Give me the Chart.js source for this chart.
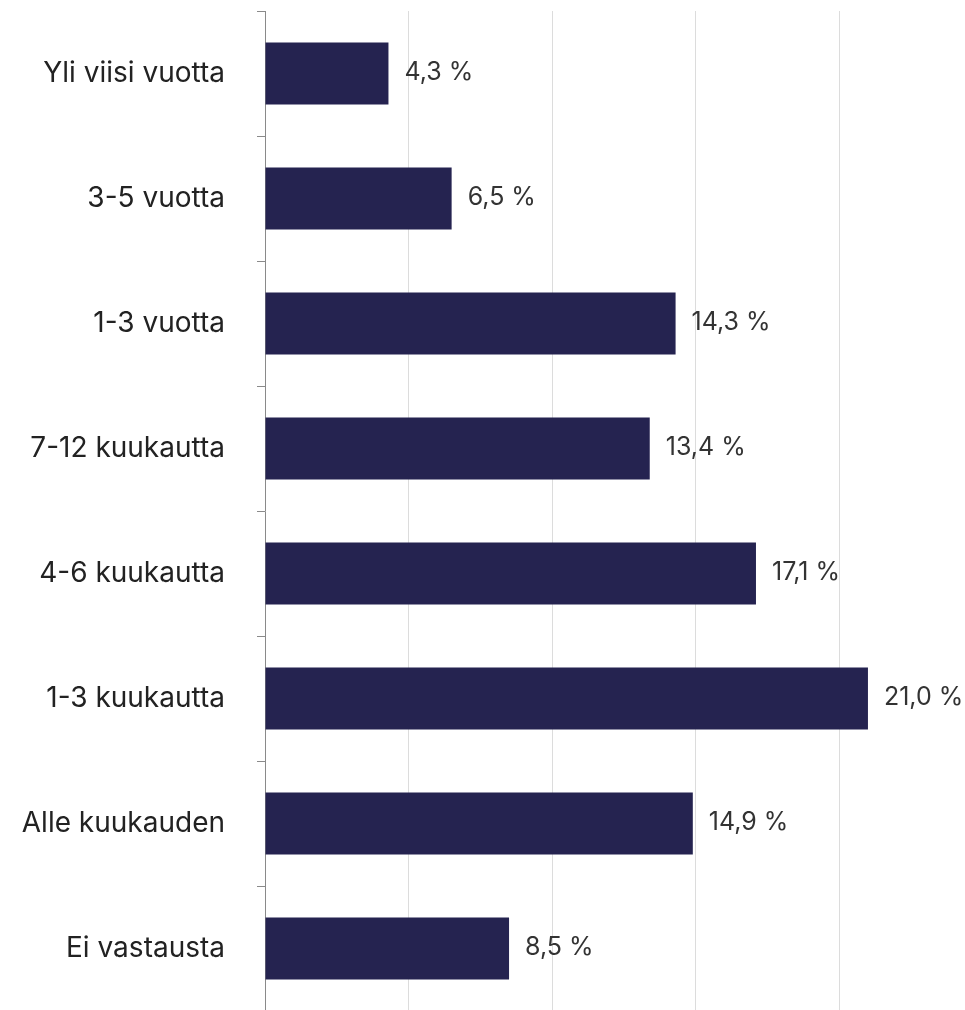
<!DOCTYPE html>
<html>
<head>
<meta charset="utf-8">
<script src="https://cdn.jsdelivr.net/npm/chart.js@4.4.1/dist/chart.umd.min.js"></script>
<style>
html,body{margin:0;padding:0;background:#fff;overflow:hidden;}
#wrap{position:absolute;left:0;top:0;width:965px;height:1012px;}
</style>
</head>
<body>
<div id="wrap"><canvas id="c"></canvas></div>
<script>
const categories = ["Yli viisi vuotta","3-5 vuotta","1-3 vuotta","7-12 kuukautta","4-6 kuukautta","1-3 kuukautta","Alle kuukauden","Ei vastausta"];
const values = [4.3, 6.5, 14.3, 13.4, 17.1, 21.0, 14.9, 8.5];
const valueLabels = ["4,3 %","6,5 %","14,3 %","13,4 %","17,1 %","21,0 %","14,9 %","8,5 %"];

const FONT = "Inter";

const valueLabelPlugin = {
  id: 'valueLabels',
  afterDatasetsDraw(chart) {
    const ctx = chart.ctx;
    const meta = chart.getDatasetMeta(0);
    ctx.save();
    ctx.font = "25px " + FONT;
    ctx.fillStyle = "#333333";
    ctx.textAlign = "left";
    ctx.textBaseline = "middle";
    meta.data.forEach((bar, i) => {
      ctx.fillText(valueLabels[i], bar.x + 16, bar.y - 1);
    });
    ctx.restore();
  }
};

new Chart(document.getElementById('c'), {
  type: 'bar',
  data: {
    labels: categories,
    datasets: [{
      data: values,
      backgroundColor: '#252350',
      borderWidth: 0,
      barPercentage: 0.99,
      categoryPercentage: 0.5
    }]
  },
  options: {
    indexAxis: 'y',
    responsive: true,
    maintainAspectRatio: false,
    animation: false,
    layout: { padding: { top: 11, bottom: 1, left: 0, right: 0 } },
    plugins: { legend: { display: false }, tooltip: { enabled: false } },
    scales: {
      x: {
        min: 0, max: 24.38,
        ticks: { display: false, stepSize: 5 },
        border: { display: false },
        grid: {
          drawTicks: false,
          color: (c) => c.tick && c.tick.value === 0 ? 'rgba(0,0,0,0)' : '#dcdcdc',
          lineWidth: 1
        },
        afterFit(scale) { scale.height = 0; scale.paddingLeft = 0; scale.paddingRight = 0; }
      },
      y: {
        ticks: { color: '#222222', font: { family: FONT, size: 28 }, padding: 32 },
        border: { display: true, color: '#8a8a8a', width: 1 },
        grid: { offset: true, drawOnChartArea: false, drawTicks: true, tickLength: 8, color: '#8a8a8a' },
        afterFit(scale) { scale.width = 265; scale.paddingTop = 0; scale.paddingBottom = 0; }
      }
    }
  },
  plugins: [valueLabelPlugin]
});
</script>
</body>
</html>
